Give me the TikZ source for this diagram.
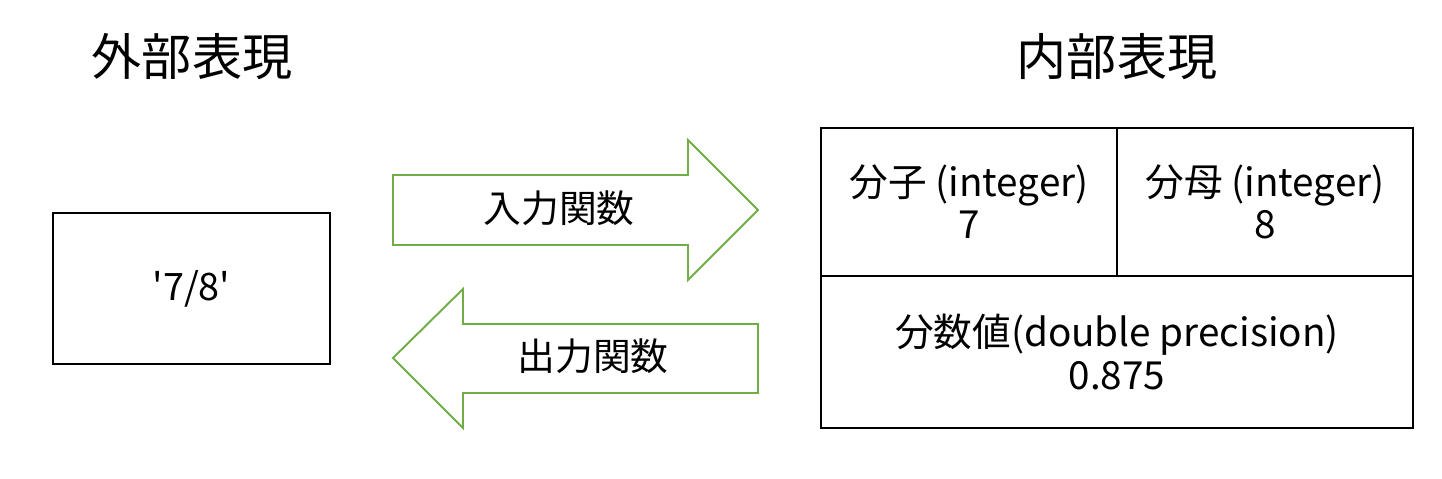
\documentclass[tikz,border=0pt]{standalone}
\usepackage{fontspec}
\setmainfont{Noto Sans CJK JP}[Ligatures=TeXOff]
\usepackage{tikz}
\usetikzlibrary{positioning}
\usepackage{xcolor}
\definecolor{arrgreen}{HTML}{70AD47}

\begin{document}
\begin{tikzpicture}[x=0.02cm, y=-0.02cm,
    title/.style={font=\fontsize{28.5}{34}\selectfont},
    lbl/.style={font=\fontsize{21.5}{26}\selectfont, align=center},
    box/.style={draw, line width=1.1pt, inner sep=0pt, align=center,
                font=\fontsize{22}{24}\selectfont},
    blockarr/.style={draw=arrgreen, line width=1.1pt, line join=miter}
  ]
    \useasboundingbox (0,0) rectangle (1442,479);

    \node[title] (ext) at (192,57) {外部表現};
    \node[title] (int) at (1117,57) {内部表現};

    \node[box, font=\fontsize{21.5}{26}\selectfont,
          minimum width=277*0.02cm, minimum height=151*0.02cm] (str) at (191.5,288.5) {'7/8'};

    % block arrows
    \draw[blockarr] (393,175) -- (688,175) -- (688,140) -- (758,210) -- (688,280)
      -- (688,245) -- (393,245) -- cycle;
    \node[lbl] (inp) at (559,208) {入力関数};
    \draw[blockarr] (758,324) -- (463,324) -- (463,289) -- (393,358) -- (463,428)
      -- (463,393) -- (758,393) -- cycle;
    \node[lbl] (outp) at (593,356) {出力関数};

    % internal representation
    \node[box, minimum width=296*0.02cm, minimum height=148*0.02cm] (num) at (969,202)
      {分子 (integer)\\7};
    \node[box, minimum width=296*0.02cm, minimum height=148*0.02cm] (den) at (1265,202)
      {分母 (integer)\\8};
    \node[box, minimum width=592*0.02cm, minimum height=152*0.02cm] (val) at (1117,352)
      {分数値(double precision)\\0.875};
  \end{tikzpicture}
\end{document}
